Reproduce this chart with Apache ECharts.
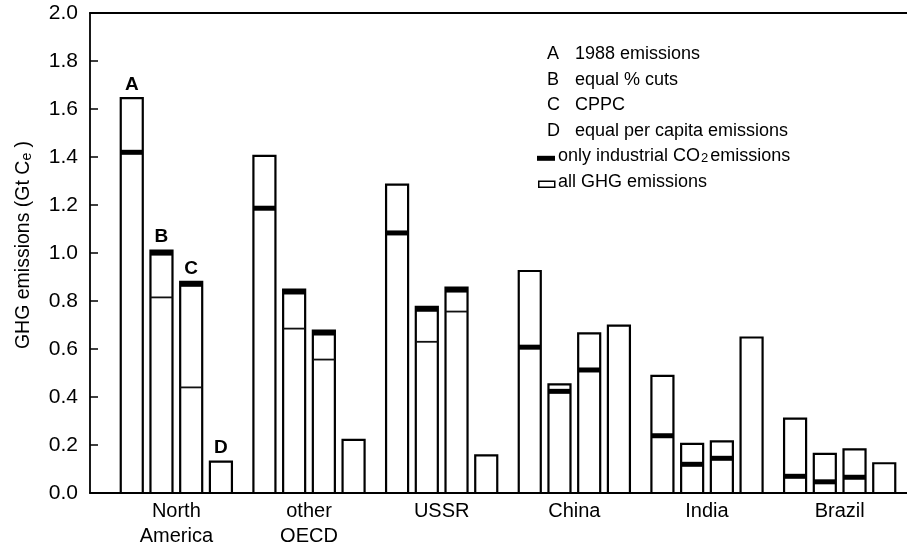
<!DOCTYPE html>
<html>
<head>
<meta charset="utf-8">
<script src="https://cdn.jsdelivr.net/npm/echarts@6/dist/echarts.min.js"></script>
<style>
html,body{margin:0;padding:0;background:#fff;}
#chart{width:907px;height:549px;}
</style>
</head>
<body>
<div id="chart"></div>
<script>
// ---- data (Gt C equivalent) ----
const groups = ['North\nAmerica', 'other\nOECD', 'USSR', 'China', 'India', 'Brazil'];
const scenarios = ['A', 'B', 'C', 'D'];
const scenarioNames = ['1988 emissions', 'equal % cuts', 'CPPC', 'equal per capita emissions'];
// all GHG emissions level per scenario
const ghgA = [1.645, 1.405, 1.285, 0.925, 0.488, 0.310];
const ghgB = [0.815, 0.685, 0.630, 0.453, 0.205, 0.163];
const ghgC = [0.440, 0.556, 0.756, 0.665, 0.215, 0.182];
const ghgD = [0.131, 0.221, 0.157, 0.697, 0.648, 0.124];
// only industrial CO2 emissions level per scenario (none for D)
const co2A = [1.430, 1.197, 1.094, 0.618, 0.249, 0.080];
const co2B = [1.010, 0.848, 0.776, 0.434, 0.130, 0.057];
const co2C = [0.880, 0.677, 0.856, 0.523, 0.155, 0.076];
const yMin = 0, yMax = 2.0, yStep = 0.2;

const ghgBy = [ghgA, ghgB, ghgC, ghgD];
const co2By = [co2A, co2B, co2C, null];
const data = [];
groups.forEach((g, gi) => {
  scenarios.forEach((s, si) => {
    data.push([gi, si, ghgBy[si][gi], co2By[si] ? co2By[si][gi] : null]);
  });
});

const FONT = 'Liberation Sans, Arial, Helvetica, sans-serif';
const chart = echarts.init(document.getElementById('chart'), null, {renderer: 'canvas'});

function renderItem(params, api) {
  const gi = api.value(0), si = api.value(1);
  const ghg = api.value(2), co2 = api.value(3);
  const hasCo2 = !isNaN(co2) && co2 !== null;
  const top = hasCo2 ? Math.max(ghg, co2) : ghg;
  const base = api.coord([gi, 0]);
  const band = api.size([1, 0])[0];
  const pitch = band * 0.224, w = band * 0.166;
  const x = base[0] + (si - 1.5) * pitch - w / 2;
  const y0 = base[1];
  const yTop = api.coord([gi, top])[1];
  const children = [{
    type: 'rect',
    shape: {x: x, y: yTop, width: w, height: y0 - yTop},
    style: {fill: '#fff', stroke: '#000', lineWidth: 2.2}
  }];
  if (ghg < top - 1e-6) {
    const yg = api.coord([gi, ghg])[1];
    children.push({
      type: 'line',
      shape: {x1: x, y1: yg, x2: x + w, y2: yg},
      style: {stroke: '#111', lineWidth: 1.8}
    });
  }
  if (hasCo2) {
    const yc = api.coord([gi, co2])[1];
    children.push({
      type: 'rect',
      shape: {x: x, y: yc, width: w, height: 5},
      style: {fill: '#000'}
    });
  }
  if (gi === 0) {
    children.push({
      type: 'text',
      style: {
        text: scenarios[si], x: x + w / 2, y: yTop - 4,
        textAlign: 'center', textVerticalAlign: 'bottom',
        font: 'bold 19px ' + FONT, fill: '#000'
      }
    });
  }
  return {type: 'group', children: children};
}

// legend (graphic text)
const legendX = 547, legendTextX = 575, legendY0 = 55, legendDy = 25.7;
const legendEls = [];
scenarios.forEach((s, i) => {
  legendEls.push({type: 'text', left: legendX, top: legendY0 + i * legendDy - 10,
    style: {text: s, font: '18px ' + FONT, fill: '#000'}});
  legendEls.push({type: 'text', left: legendTextX, top: legendY0 + i * legendDy - 10,
    style: {text: scenarioNames[i], font: '18px ' + FONT, fill: '#000'}});
});
legendEls.push({type: 'rect', left: 537, top: legendY0 + 4 * legendDy - 2,
  shape: {width: 18, height: 5}, style: {fill: '#000'}});
legendEls.push({type: 'text', left: 558, top: legendY0 + 4 * legendDy - 11,
  style: {text: 'only industrial CO{s|2}emissions', font: '18px ' + FONT, fill: '#000',
    rich: {s: {fontSize: 13, fontFamily: FONT, verticalAlign: 'bottom', lineHeight: 10, padding:[0,2,0,1]}}}});
legendEls.push({type: 'rect', left: 538, top: legendY0 + 5 * legendDy - 3,
  shape: {width: 16, height: 6}, style: {fill: '#fff', stroke: '#000', lineWidth: 1.5}});
legendEls.push({type: 'text', left: 558, top: legendY0 + 5 * legendDy - 10,
  style: {text: 'all GHG emissions', font: '18px ' + FONT, fill: '#000'}});

const option = {
  backgroundColor: '#fff',
  animation: false,
  grid: [
    {left: 90, right: 0, top: 13, bottom: 56},
    {left: 110, right: 1, top: 13, bottom: 56}
  ],
  xAxis: [
    {gridIndex: 0, type: 'value', min: 0, max: 1, position: 'bottom',
     axisLine: {show: true, lineStyle: {color: '#000', width: 1.8}},
     axisTick: {show: false}, axisLabel: {show: false}, splitLine: {show: false}},
    {gridIndex: 0, type: 'value', min: 0, max: 1, position: 'top',
     axisLine: {show: true, lineStyle: {color: '#000', width: 1.8}},
     axisTick: {show: false}, axisLabel: {show: false}, splitLine: {show: false}},
    {gridIndex: 1, type: 'category', data: groups, position: 'bottom',
     axisLine: {show: false}, axisTick: {show: false}, splitLine: {show: false},
     axisLabel: {color: '#000', fontSize: 20, fontFamily: FONT, lineHeight: 25, margin: 6, interval: 0}}
  ],
  yAxis: [
    {gridIndex: 0, type: 'value', min: yMin, max: yMax, interval: yStep,
     axisLine: {show: true, lineStyle: {color: '#000', width: 1.8}},
     axisTick: {show: true, inside: true, length: 8, lineStyle: {color: '#000', width: 1.5}},
     splitLine: {show: false},
     axisLabel: {color: '#000', fontSize: 21, fontFamily: FONT, margin: 12,
       formatter: v => v.toFixed(1)},
     name: 'GHG emissions (Gt C{s|e} )', nameLocation: 'middle', nameGap: 56,
     nameTextStyle: {color: '#000', fontSize: 19.5, fontFamily: FONT, padding: [0, 0, 0, 16],
       rich: {s: {fontSize: 14, fontFamily: FONT, verticalAlign: 'bottom', lineHeight: 10, color: '#000'}}}},
    {gridIndex: 1, type: 'value', min: yMin, max: yMax, show: false}
  ],
  graphic: legendEls,
  series: [{
    type: 'custom',
    xAxisIndex: 2, yAxisIndex: 1,
    dimensions: ['group', 'scenario', 'ghg', 'co2'],
    encode: {x: 0, y: 2},
    renderItem: renderItem,
    data: data
  }]
};
chart.setOption(option);
</script>
</body>
</html>
